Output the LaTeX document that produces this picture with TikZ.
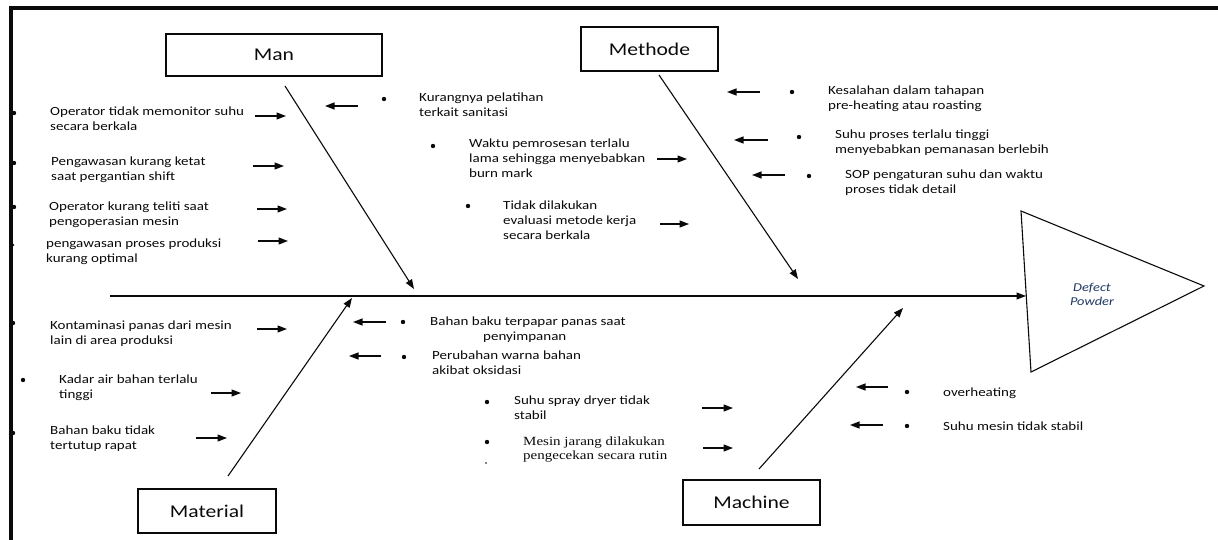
\documentclass[tikz,border=0pt]{standalone}
\usepackage{fontspec}
\setmainfont{Carlito}[FakeStretch=1.2]
\newfontfamily\serifwide{Liberation Serif}[FakeStretch=1.2]
\usetikzlibrary{arrows.meta}

\definecolor{ink}{RGB}{10,10,10}
\definecolor{effectblue}{RGB}{31,56,100}

\tikzset{
  lbl/.style={anchor=north west, yshift=10.5pt, inner sep=0pt, align=left,
    font=\fontsize{12.5}{15}\selectfont, text=ink, execute at begin node=\strut},
  lblserif/.style={anchor=north west, yshift=9.8pt, inner sep=0pt, align=left,
    font=\serifwide\fontsize{12.5}{14}\selectfont, text=ink, execute at begin node=\strut},
  catbox/.style={draw=ink, line width=1.3pt, inner sep=0pt,
    font=\fontsize{18}{20}\selectfont, text=ink},
  dot/.style={circle, fill=ink, inner sep=0pt, minimum size=4.4pt},
  arr/.style={draw=ink, line width=1.2pt, -{Triangle[length=9.5pt,width=7pt]}},
  bone/.style={draw=ink, line width=1.1pt, -{Triangle[length=9.5pt,width=7pt]}},
}

% short cause arrow between two named end points
\newcommand\causearrow[5]{%
  \coordinate (#1s) at (#2,#3);
  \coordinate (#1e) at (#4,#5);
  \draw[arr] (#1s) -- (#1e);}

\begin{document}
\begin{tikzpicture}[x=1pt,y=-1pt]
\useasboundingbox (0,0) rectangle (1218,540);

% page frame (top and left edges)
\draw[ink, line width=3.2pt] (11,540) -- (11,8) -- (1218,8);

% effect head
\coordinate (t1) at (1021,211);
\coordinate (t2) at (1204,286);
\coordinate (t3) at (1031,372);
\draw[ink, line width=1.1pt, line join=miter] (t1) -- (t2) -- (t3) -- cycle;
\node[align=center, inner sep=0pt, text=effectblue,
  font=\itshape\fontsize{12}{14}\selectfont] (effect) at (1092,294) {Defect\\Powder};

% spine
\coordinate (spineTail) at (110,296);
\coordinate (spineHead) at (1026,296);
\draw[bone] (spineTail) -- (spineHead);

% category boxes
\node[catbox, minimum width=216pt, minimum height=42pt] (man) at (274,55) {Man};
\node[catbox, minimum width=137pt, minimum height=44pt] (methode) at (649.5,49) {Methode};
\node[catbox, minimum width=138pt, minimum height=44pt] (material) at (207,511) {Material};
\node[catbox, minimum width=137pt, minimum height=45pt] (machine) at (751.5,502.5) {Machine};

% main bones
\coordinate (manTail) at (285,86);      \coordinate (manHead) at (414,289);
\coordinate (metTail) at (659,75);      \coordinate (metHead) at (798,279);
\coordinate (matTail) at (228,476);     \coordinate (matHead) at (352,298);
\coordinate (macTail) at (759,469);     \coordinate (macHead) at (903,308);
\draw[bone] (manTail) -- (manHead);
\draw[bone] (metTail) -- (metHead);
\draw[bone] (matTail) -- (matHead);
\draw[bone] (macTail) -- (macHead);

% ---- Man ----
\node[dot] (d1) at (14,113) {};
\node[lbl] (c1) at (50,117.5) {Operator tidak memonitor suhu\\secara berkala};
\causearrow{a1}{255}{116}{286}{116}
\node[dot] (d2) at (14,163) {};
\node[lbl] (c2) at (51,167) {Pengawasan kurang ketat\\saat pergantian shift};
\causearrow{a2}{253}{166}{284}{166}
\node[dot] (d3) at (14,207) {};
\node[lbl] (c3) at (49,212) {Operator kurang teliti saat\\pengoperasian mesin};
\causearrow{a3}{257}{209}{287}{209}
\node[dot, minimum size=2.8pt] (d4) at (13,245) {};
\node[lbl] (c4) at (46,249) {pengawasan proses produksi\\kurang optimal};
\causearrow{a4}{258}{241}{288}{241}
\causearrow{a5}{358}{106}{325}{106}
\node[dot] (d5) at (384,99) {};
\node[lbl] (c5) at (419,103) {Kurangnya pelatihan\\terkait sanitasi};

% ---- Methode ----
\node[dot] (d6) at (433,146) {};
\node[lbl] (c6) at (469,149) {Waktu pemrosesan terlalu\\lama sehingga menyebabkan\\burn mark};
\causearrow{a6}{657}{159}{687}{159}
\node[dot] (d7) at (468,206) {};
\node[lbl] (c7) at (503,211) {Tidak dilakukan\\evaluasi metode kerja\\secara berkala};
\causearrow{a7}{660}{224}{689}{224}
\causearrow{a8}{760}{92}{727}{92}
\node[dot] (d8) at (792,92) {};
\node[lbl] (c8) at (828,96) {Kesalahan dalam tahapan\\pre-heating atau roasting};
\causearrow{a9}{768}{140}{734}{140}
\node[dot] (d9) at (799,137) {};
\node[lbl] (c9) at (835,140) {Suhu proses terlalu tinggi\\menyebabkan pemanasan berlebih};
\causearrow{a10}{785}{175}{752}{175}
\node[dot] (d10) at (809,176) {};
\node[lbl] (c10) at (845,180) {SOP pengaturan suhu dan waktu\\proses tidak detail};

% ---- Material ----
\node[dot] (d11) at (13,323) {};
\node[lbl] (c11) at (50,331) {Kontaminasi panas dari mesin\\lain di area produksi};
\causearrow{a11}{257}{329}{287}{329}
\node[dot] (d12) at (23,380) {};
\node[lbl] (c12) at (59,385) {Kadar air bahan terlalu\\tinggi};
\causearrow{a12}{211}{393}{241}{393}
\node[dot] (d13) at (13,433) {};
\node[lbl] (c13) at (50,436) {Bahan baku tidak\\tertutup rapat};
\causearrow{a13}{196}{438}{227}{438}
\causearrow{a14}{386}{322}{353}{322}
\node[dot] (d14) at (403,322) {};
\node[lbl] (c14) at (430,327) {Bahan baku terpapar panas saat\\\hspace*{53pt}penyimpanan};
\causearrow{a15}{381}{356}{349}{356}
\node[dot] (d15) at (404,357) {};
\node[lbl] (c15) at (432,361) {Perubahan warna bahan\\akibat oksidasi};

% ---- Machine ----
\node[dot] (d16) at (487,402) {};
\node[lbl] (c16) at (514,406) {Suhu spray dryer tidak\\stabil};
\causearrow{a16}{702}{408}{733}{408}
\node[dot] (d17) at (487,442) {};
\node[lblserif] (c17) at (523,446) {Mesin jarang dilakukan\\pengecekan secara rutin};
\causearrow{a17}{703}{448}{733}{448}
\node[dot, minimum size=1.8pt] (d17b) at (486,463) {};
\causearrow{a18}{888}{387}{856}{387}
\node[dot] (d18) at (907,392) {};
\node[lbl] (c18) at (943,396) {overheating};
\causearrow{a19}{883}{425}{850}{425}
\node[dot] (d19) at (907,426) {};
\node[lbl] (c19) at (943,430) {Suhu mesin tidak stabil};

\end{tikzpicture}
\end{document}
